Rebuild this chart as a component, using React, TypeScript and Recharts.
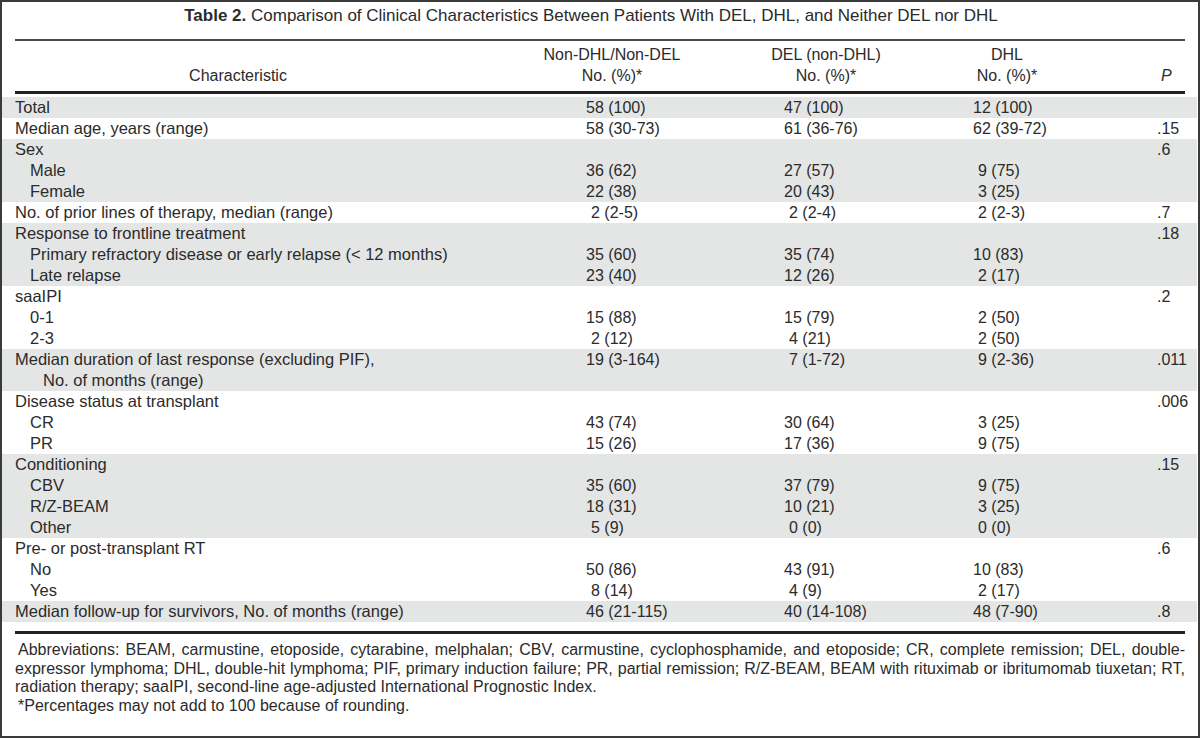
import { Bar, BarChart, XAxis, YAxis } from "recharts";

const FONT = '"Liberation Sans", Arial, Helvetica, sans-serif';
const INK = "#2b2b2b";
const SHADE = "#e4e5e5";

const title = "Comparison of Clinical Characteristics Between Patients With DEL, DHL, and Neither DEL nor DHL";

const characteristics = [
  "Total",
  "Median age, years (range)",
  "Sex",
  "Male",
  "Female",
  "No. of prior lines of therapy, median (range)",
  "Response to frontline treatment",
  "Primary refractory disease or early relapse (< 12 months)",
  "Late relapse",
  "saaIPI",
  "0-1",
  "2-3",
  "Median duration of last response (excluding PIF),",
  "No. of months (range)",
  "Disease status at transplant",
  "CR",
  "PR",
  "Conditioning",
  "CBV",
  "R/Z-BEAM",
  "Other",
  "Pre- or post-transplant RT",
  "No",
  "Yes",
  "Median follow-up for survivors, No. of months (range)",
];
const indentLevels = [0, 0, 0, 1, 1, 0, 0, 1, 1, 0, 1, 1, 0, 2, 0, 1, 1, 0, 1, 1, 1, 0, 1, 1, 0];
const shaded = [1, 0, 1, 1, 1, 0, 1, 1, 1, 0, 0, 0, 1, 1, 0, 0, 0, 1, 1, 1, 1, 0, 0, 0, 1];

const nonDhlValues = [
  "58 (100)", "58 (30-73)", "", "36 (62)", "22 (38)", "2 (2-5)", "", "35 (60)", "23 (40)", "",
  "15 (88)", "2 (12)", "19 (3-164)", "", "", "43 (74)", "15 (26)", "", "35 (60)", "18 (31)",
  "5 (9)", "", "50 (86)", "8 (14)", "46 (21-115)",
];
const delValues = [
  "47 (100)", "61 (36-76)", "", "27 (57)", "20 (43)", "2 (2-4)", "", "35 (74)", "12 (26)", "",
  "15 (79)", "4 (21)", "7 (1-72)", "", "", "30 (64)", "17 (36)", "", "37 (79)", "10 (21)",
  "0 (0)", "", "43 (91)", "4 (9)", "40 (14-108)",
];
const dhlValues = [
  "12 (100)", "62 (39-72)", "", "9 (75)", "3 (25)", "2 (2-3)", "", "10 (83)", "2 (17)", "",
  "2 (50)", "2 (50)", "9 (2-36)", "", "", "3 (25)", "9 (75)", "", "9 (75)", "3 (25)",
  "0 (0)", "", "10 (83)", "2 (17)", "48 (7-90)",
];
const pValues = [
  "", ".15", ".6", "", "", ".7", ".18", "", "", ".2", "", "", ".011", "", ".006", "", "",
  ".15", "", "", "", ".6", "", "", ".8",
];

const headerCols = [
  { top: "Non-DHL/Non-DEL", bottom: "No. (%)*", center: 612 },
  { top: "DEL (non-DHL)", bottom: "No. (%)*", center: 826 },
  { top: "DHL", bottom: "No. (%)*", center: 1007 },
];

const footnoteLines = [
  "Abbreviations: BEAM, carmustine, etoposide, cytarabine, melphalan; CBV, carmustine, cyclophosphamide, and etoposide; CR, complete remission; DEL, double-",
  "expressor lymphoma; DHL, double-hit lymphoma; PIF, primary induction failure; PR, partial remission; R/Z-BEAM, BEAM with rituximab or ibritumomab tiuxetan; RT,",
  "radiation therapy; saaIPI, second-line age-adjusted International Prognostic Index.",
  "*Percentages may not add to 100 because of rounding.",
];

const rows = characteristics.map((_, i) => ({ key: `r${i}`, shade: shaded[i] }));

// page x positions; the chart sits at left 2
const CHART_LEFT = 2;
const INDENT_X = [15, 30, 43];
const COL_X = [586, 784, 973];
const P_X = 1157;

function cellX(col: number, s: string) {
  const num = s.split(" ")[0];
  return COL_X[col] + (num.length === 1 ? 5 : 0) - CHART_LEFT;
}

function RowTick(props: any) {
  const { y, payload } = props;
  const i = rows.findIndex((r) => r.key === payload.value);
  if (i < 0) return null;
  const cols = [nonDhlValues[i], delValues[i], dhlValues[i]];
  const common = { y, dy: "0.35em", fill: INK, fontSize: 16.5, fontFamily: FONT };
  return (
    <g>
      <text {...common} x={INDENT_X[indentLevels[i]] - CHART_LEFT} textAnchor="start">
        {characteristics[i]}
      </text>
      {cols.map((v, c) =>
        v ? (
          <text key={c} {...common} fontSize={16} x={cellX(c, v)} textAnchor="start">
            {v}
          </text>
        ) : null
      )}
      {pValues[i] && (
        <text {...common} fontSize={16} x={P_X - CHART_LEFT} textAnchor="start">
          {pValues[i]}
        </text>
      )}
    </g>
  );
}

function Rule({ top, h, color }: { top: number; h: number; color: string }) {
  return <div style={{ position: "absolute", left: 15, width: 1170, top, height: h, background: color }} />;
}

export default function App() {
  return (
    <div
      style={{
        position: "absolute",
        left: 0,
        top: 0,
        width: 1200,
        height: 738,
        background: "#fff",
        fontFamily: FONT,
        color: INK,
        fontSize: 16,
        overflow: "hidden",
      }}
    >
      <div
        style={{
          position: "absolute",
          left: -9,
          top: 5,
          width: 1200,
          textAlign: "center",
          lineHeight: "21px",
          fontSize: 17,
        }}
      >
        <b>Table 2.</b> {title}
      </div>
      <Rule top={38.5} h={2} color="#4a4a4a" />

      <div style={{ position: "absolute", left: 138, width: 200, top: 66, textAlign: "center", lineHeight: "20px" }}>
        Characteristic
      </div>
      {headerCols.map((h) => (
        <div key={h.top}>
          <div style={{ position: "absolute", left: h.center - 100, width: 200, top: 45, textAlign: "center", lineHeight: "20px" }}>
            {h.top}
          </div>
          <div style={{ position: "absolute", left: h.center - 100, width: 200, top: 66, textAlign: "center", lineHeight: "20px" }}>
            {h.bottom}
          </div>
        </div>
      ))}
      <div style={{ position: "absolute", left: 1161, top: 66, lineHeight: "20px", fontStyle: "italic" }}>P</div>
      <Rule top={90.5} h={3} color="#222" />

      <div style={{ position: "absolute", left: CHART_LEFT, top: 97 }}>
        <BarChart
          width={1195}
          height={525}
          data={rows}
          layout="vertical"
          margin={{ top: 0, right: 0, bottom: 0, left: 0 }}
          barCategoryGap={0}
        >
          <Bar dataKey="shade" fill={SHADE} isAnimationActive={false} />
          <XAxis type="number" domain={[0, 1]} hide />
          <YAxis
            type="category"
            dataKey="key"
            mirror
            axisLine={false}
            tickLine={false}
            interval={0}
            tick={<RowTick />}
          />
        </BarChart>
      </div>

      <Rule top={630.5} h={3} color="#222" />

      <div style={{ position: "absolute", left: 15, width: 1170, top: 641, lineHeight: "18.5px" }}>
        {footnoteLines.map((line, i) => (
          <div
            key={i}
            style={{
              textAlign: i < 2 ? "justify" : "left",
              textAlignLast: i < 2 ? "justify" : "left",
              paddingLeft: i === 0 || i === 3 ? 3 : 0,
              whiteSpace: "nowrap",
            }}
          >
            {line}
          </div>
        ))}
      </div>

      <div
        style={{
          position: "absolute",
          left: 0,
          top: 0,
          width: 1200,
          height: 738,
          boxSizing: "border-box",
          border: "2px solid #3a3a3a",
        }}
      />
    </div>
  );
}
